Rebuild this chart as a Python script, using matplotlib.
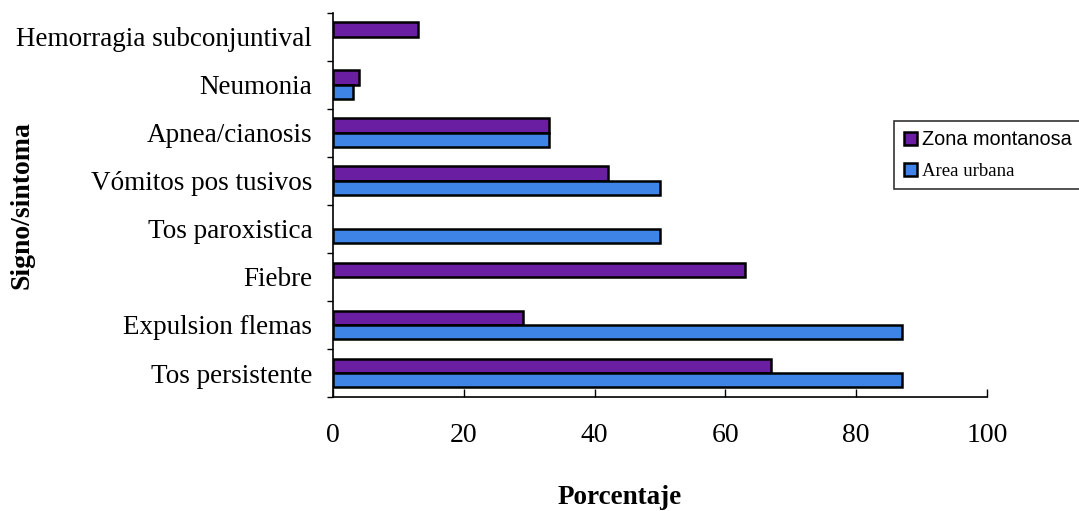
import matplotlib
matplotlib.use("Agg")
import matplotlib.pyplot as plt
import numpy as np

categories = ["Tos persistente", "Expulsion flemas", "Fiebre", "Tos paroxistica",
              "Vómitos pos tusivos", "Apnea/cianosis", "Neumonia", "Hemorragia subconjuntival"]
montanosa = [67, 29, 63, 0, 42, 33, 4, 13]
urbana = [87, 87, 0, 50, 50, 33, 3, 0]
xticks = [0, 20, 40, 60, 80, 100]

fig = plt.figure(figsize=(10.79, 5.11), dpi=100)
ax = fig.add_axes([0.3086, 0.223, 0.6061, 0.752])

y = np.arange(len(categories))
h = 0.30
lw_m = [1.8 if v > 0 else 0 for v in montanosa]
lw_u = [1.8 if v > 0 else 0 for v in urbana]
ax.barh(y + h / 2, montanosa, height=h, color="#6a1fa3", edgecolor="black", linewidth=lw_m,
        label="Zona montanosa")
ax.barh(y - h / 2, urbana, height=h, color="#3d84e6", edgecolor="black", linewidth=lw_u,
        label="Area urbana")

ax.set_xlim(0, 100)
ax.set_ylim(-0.5, len(categories) - 0.5)
ax.set_xticks(xticks)
ax.set_xticklabels([str(t) for t in xticks], family="Liberation Serif", fontsize=20)
ax.set_yticks(y)
ax.set_yticklabels(categories, family="Liberation Serif", fontsize=19.5)
ax.set_yticks(np.arange(len(categories) + 1) - 0.5, minor=True)
ax.tick_params(axis="y", which="major", length=0, pad=15)
ax.tick_params(axis="y", which="minor", length=4, width=1, direction="out")
ax.tick_params(axis="x", length=6, width=1, direction="in", pad=19)

for s in ["top", "right"]:
    ax.spines[s].set_visible(False)
ax.spines["left"].set_linewidth(1.2)
ax.spines["bottom"].set_linewidth(1.2)

ax.set_xlabel("Porcentaje", family="Liberation Serif", fontsize=19.5, fontweight="bold")
ax.xaxis.set_label_coords(0.439, -0.23)
ax.set_ylabel("Signo/sintoma", family="Liberation Serif", fontsize=20, fontweight="bold")
ax.yaxis.set_label_coords(-0.457, 0.5)

leg = fig.legend(loc="upper left", bbox_to_anchor=(0.829, 0.763), frameon=True, fancybox=False,
                 edgecolor="black", fontsize=13, handlelength=0.75, handleheight=0.75,
                 handletextpad=0.3, borderpad=0.5, labelspacing=0.75, borderaxespad=0)
leg.get_frame().set_linewidth(1.2)
texts = leg.get_texts()
texts[0].set_family("Liberation Sans")
texts[0].set_fontsize(14.3)
texts[1].set_family("Liberation Serif")
texts[1].set_fontsize(13.5)

fig.savefig("out.png", dpi=100)
